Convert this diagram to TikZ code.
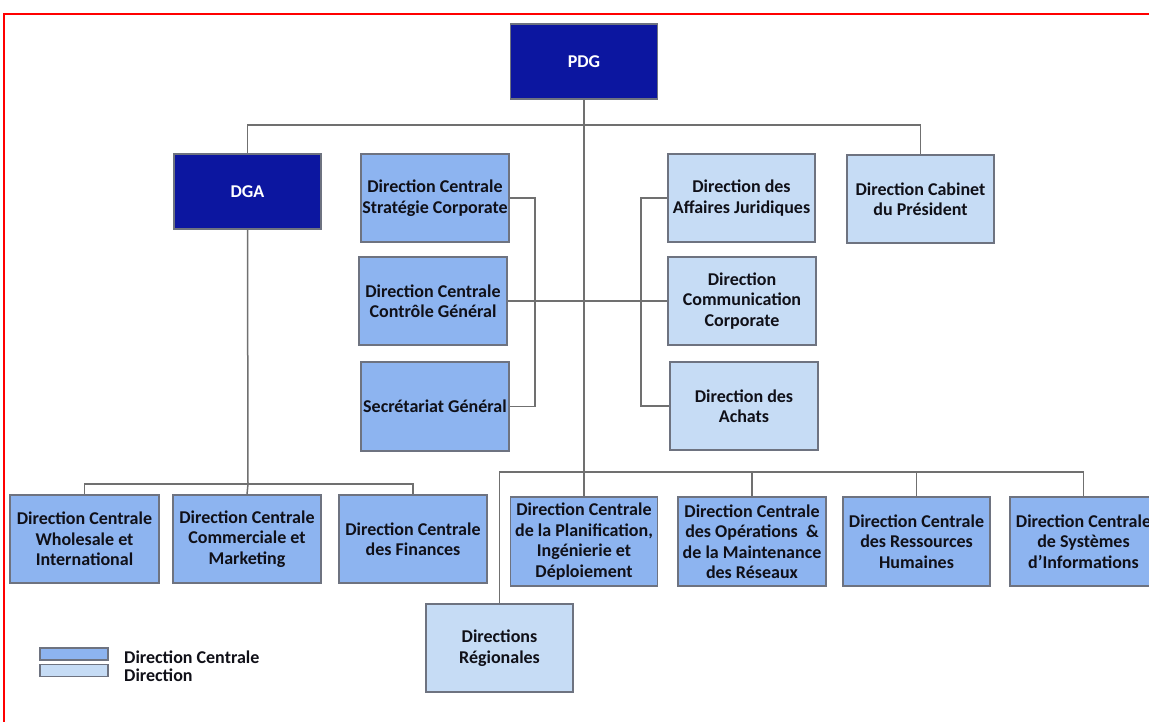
\documentclass[tikz,border=0pt]{standalone}
\usepackage{fontspec}
\setmainfont{Carlito}
\definecolor{chief}{HTML}{0C16A0}
\definecolor{central}{HTML}{8DB4F0}
\definecolor{direction}{HTML}{C6DCF5}
\definecolor{edgegray}{HTML}{6E7380}
\definecolor{linkgray}{HTML}{707070}
\definecolor{textdark}{HTML}{101018}
\begin{document}
\begin{tikzpicture}[x=1pt,y=-1pt,
  orgbox/.style={draw=edgegray, line width=1.2pt, align=center, inner sep=0pt,
    text=textdark, font=\fontsize{18}{20.5}\selectfont\bfseries,
    minimum width=147pt, minimum height=88pt},
  chiefbox/.style={orgbox, fill=chief, text=white, minimum height=75pt},
  centralbox/.style={orgbox, fill=central},
  dirbox/.style={orgbox, fill=direction},
  link/.style={draw=linkgray, line width=1.5pt},
  frame/.style={draw=red, line width=2pt}]
\useasboundingbox (0,0) rectangle (1149,722);
\fill[white] (0,0) rectangle (1149,722);
\draw[frame] (4,730) -- (4,14) -- (1160,14);

% top management
\node[chiefbox] (pdg) at (584,61.5) {PDG};
\node[chiefbox] (dga) at (247.5,191.5) {DGA};
\node[dirbox] (cab) at (920.5,199) {Direction Cabinet\\du Président};

% staff directions around the central axis
\node[centralbox, minimum width=148pt] (strat) at (435,198) {Direction Centrale\\Stratégie Corporate};
\node[centralbox, minimum width=148pt] (ctrl) at (433,301) {Direction Centrale\\Contrôle Général};
\node[centralbox, minimum width=148pt, minimum height=89pt] (secr) at (435,406.5) {Secrétariat Général};
\node[dirbox] (jur) at (741.5,198) {Direction des\\Affaires Juridiques};
\node[dirbox, minimum width=148pt] (comm) at (742,301) {Direction\\Communication\\Corporate};
\node[dirbox, minimum width=148pt] (ach) at (744,406) {Direction des\\Achats};

% directions under the DGA
\node[centralbox, minimum width=149pt] (whole) at (84.5,539) {Direction Centrale\\Wholesale et\\International};
\node[centralbox, minimum width=148pt] (commer) at (247,539) {Direction Centrale\\Commerciale et\\Marketing};
\node[centralbox, minimum width=148pt] (fin) at (413,539) {Direction Centrale\\des Finances};

% technical and support directions
\node[centralbox, minimum height=89pt] (plan) at (584,541.5) {Direction Centrale\\de la Planification,\\Ingénierie et\\Déploiement};
\node[centralbox, minimum width=148pt, minimum height=89pt] (ops) at (752,541.5) {Direction Centrale\\des Opérations\ \ \&\\de la Maintenance\\des Réseaux};
\node[centralbox, minimum height=89pt] (rh) at (916.5,541.5) {Direction Centrale\\des Ressources\\Humaines};
\node[centralbox, minimum height=89pt] (sys) at (1083.5,541.5) {Direction Centrale\\de Systèmes\\d’Informations};
\node[dirbox] (reg) at (499.5,648) {Directions\\Régionales};

% bus junctions
\coordinate (tbus) at (584,125);
\coordinate (rbus) at (584,472);
\coordinate (dbus) at (248,484);
\coordinate (lbr) at (535,301);
\coordinate (rbr) at (641,301);

% connectors
\draw[link] (pdg.south) -- (rbus);
\draw[link] (dga.north) |- (tbus) -| (cab.north);
\draw[link] (strat.east) -| (lbr) |- (secr.east);
\draw[link] (jur.west) -| (rbr) |- (ach.west);
\draw[link] (ctrl.east) -- (comm.west);
\draw[link] (dga.south) -- (dbus);
\draw[link] (whole.north) |- (dbus) -| (fin.north);
\draw[link] (dbus) -- (commer.north);
\draw[link] (reg.north) |- (rbus) -| (sys.north);
\draw[link] (rbus) -- (plan.north);
\draw[link] (ops.north) |- (rbus);
\draw[link] (rh.north) |- (rbus);

% legend
\node[draw=edgegray, line width=1.2pt, fill=central, minimum width=68pt, minimum height=12pt, inner sep=0pt] (keyc) at (74,654) {};
\node[draw=edgegray, line width=1.2pt, fill=direction, minimum width=68pt, minimum height=12pt, inner sep=0pt] (keyd) at (74,670.5) {};
\node[anchor=west, align=left, inner sep=0pt, text=textdark, font=\fontsize{18}{18}\selectfont\bfseries] (keytext) at (124,666) {Direction Centrale\\Direction};
\end{tikzpicture}
\end{document}
